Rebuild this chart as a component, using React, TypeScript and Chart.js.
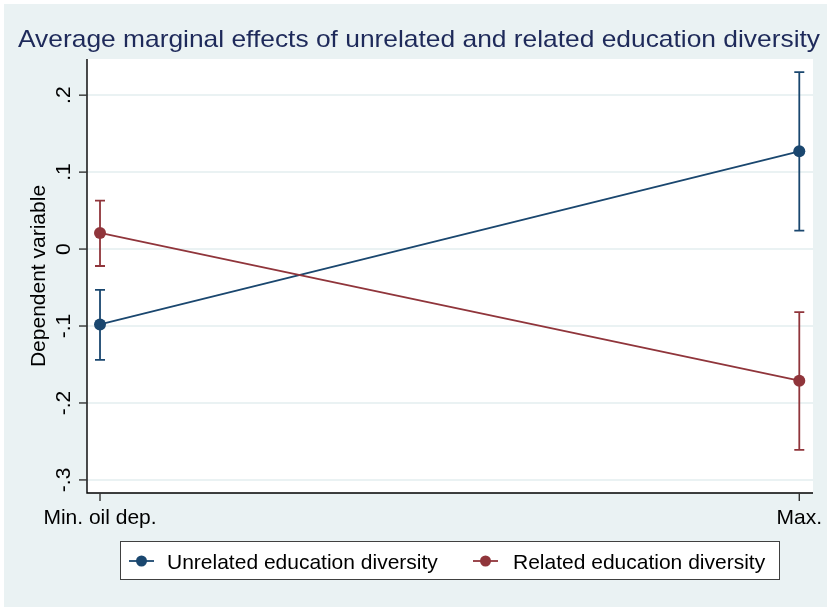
import React, { useEffect, useRef } from "react";
import { Chart, registerables } from "chart.js";

Chart.register(...registerables);

const categories = ["Min. oil dep.", "Max."];
const yTicks = [0.2, 0.1, 0, -0.1, -0.2, -0.3];
const yTickLabels = [".2", ".1", "0", "-.1", "-.2", "-.3"];
const seriesNames = ["Unrelated education diversity", "Related education diversity"];
const unrelatedMean = [-0.098, 0.127];
const unrelatedLower = [-0.144, 0.024];
const unrelatedUpper = [-0.053, 0.23];
const relatedMean = [0.021, -0.171];
const relatedLower = [-0.022, -0.261];
const relatedUpper = [0.063, -0.082];

const BLUE = "#1a476f";
const RED = "#90353b";
const BG = "#eaf2f3";
const FONT = "'Liberation Sans', Arial, sans-serif";
const TITLE = "Average marginal effects of unrelated and related education diversity";

const ciPlugin = {
  id: "stataDecor",
  beforeDraw(chart: any) {
    const { ctx, chartArea, width, height } = chart;
    ctx.save();
    ctx.fillStyle = "#ffffff";
    ctx.fillRect(0, 0, width, height);
    ctx.fillStyle = BG;
    ctx.fillRect(4, 4, width - 4, height - 4);
    ctx.fillStyle = "#ffffff";
    ctx.fillRect(chartArea.left, chartArea.top, chartArea.right - chartArea.left, chartArea.bottom - chartArea.top);
    const ys = chart.scales.y;
    const xs = chart.scales.x;
    // grid
    ctx.strokeStyle = BG;
    ctx.lineWidth = 2;
    yTicks.forEach((t) => {
      const py = Math.round(ys.getPixelForValue(t));
      ctx.beginPath();
      ctx.moveTo(chartArea.left, py);
      ctx.lineTo(chartArea.right, py);
      ctx.stroke();
    });
    // title (stretched horizontally like the reference)
    ctx.fillStyle = "#1e2a5a";
    ctx.font = `24px ${FONT}`;
    ctx.textAlign = "center";
    ctx.textBaseline = "alphabetic";
    const tw = ctx.measureText(TITLE).width;
    const sx = 802 / tw;
    ctx.save();
    ctx.translate(419, 47);
    ctx.scale(sx, 1);
    ctx.fillText(TITLE, 0, 0);
    ctx.restore();
    // axes lines
    ctx.strokeStyle = "#000000";
    ctx.lineWidth = 1.4;
    ctx.beginPath();
    ctx.moveTo(chartArea.left, chartArea.top);
    ctx.lineTo(chartArea.left, chartArea.bottom);
    ctx.lineTo(chartArea.right, chartArea.bottom);
    ctx.stroke();
    // y ticks
    ctx.strokeStyle = "#333333";
    ctx.fillStyle = "#000000";
    ctx.font = `21px ${FONT}`;
    yTicks.forEach((t, i) => {
      const py = ys.getPixelForValue(t);
      ctx.beginPath();
      ctx.moveTo(chartArea.left - 8, py);
      ctx.lineTo(chartArea.left, py);
      ctx.stroke();
      ctx.save();
      ctx.translate(70, py);
      ctx.rotate(-Math.PI / 2);
      ctx.textAlign = "center";
      ctx.textBaseline = "alphabetic";
      ctx.fillText(yTickLabels[i], 0, 0);
      ctx.restore();
    });
    // x ticks
    categories.forEach((c, i) => {
      const px = xs.getPixelForValue(i);
      ctx.beginPath();
      ctx.moveTo(px, chartArea.bottom);
      ctx.lineTo(px, chartArea.bottom + 8);
      ctx.stroke();
      ctx.textAlign = "center";
      ctx.textBaseline = "alphabetic";
      ctx.fillText(c, px, 524);
    });
    // y title
    ctx.save();
    ctx.translate(45, (chartArea.top + chartArea.bottom) / 2);
    ctx.rotate(-Math.PI / 2);
    ctx.textAlign = "center";
    ctx.fillText("Dependent variable", 0, 0);
    ctx.restore();
    // legend
    ctx.fillStyle = "#ffffff";
    ctx.fillRect(120, 541, 659, 38);
    ctx.strokeStyle = "#404040";
    ctx.lineWidth = 1;
    ctx.strokeRect(120.5, 541.5, 659, 38);
    const items = [
      { color: BLUE, x: 129, tx: 167, name: seriesNames[0] },
      { color: RED, x: 473, tx: 513, name: seriesNames[1] },
    ];
    items.forEach((it) => {
      ctx.strokeStyle = it.color;
      ctx.lineWidth = 1.8;
      ctx.beginPath();
      ctx.moveTo(it.x, 561);
      ctx.lineTo(it.x + 25, 561);
      ctx.stroke();
      ctx.fillStyle = it.color;
      ctx.beginPath();
      ctx.arc(it.x + 12.5, 561, 5.5, 0, Math.PI * 2);
      ctx.fill();
      ctx.fillStyle = "#000000";
      ctx.font = `21px ${FONT}`;
      ctx.textAlign = "left";
      ctx.textBaseline = "alphabetic";
      ctx.fillText(it.name, it.tx, 568.5);
    });
    ctx.restore();
  },
  afterDatasetsDraw(chart: any) {
    const { ctx } = chart;
    const ys = chart.scales.y;
    const xs = chart.scales.x;
    const sets = [
      { color: RED, lo: relatedLower, hi: relatedUpper },
      { color: BLUE, lo: unrelatedLower, hi: unrelatedUpper },
    ];
    ctx.save();
    sets.forEach((s) => {
      ctx.strokeStyle = s.color;
      ctx.lineWidth = 1.8;
      s.lo.forEach((lo, i) => {
        const px = xs.getPixelForValue(i);
        const pLo = ys.getPixelForValue(lo);
        const pHi = ys.getPixelForValue(s.hi[i]);
        ctx.beginPath();
        ctx.moveTo(px, pLo);
        ctx.lineTo(px, pHi);
        ctx.moveTo(px - 5, pLo);
        ctx.lineTo(px + 5, pLo);
        ctx.moveTo(px - 5, pHi);
        ctx.lineTo(px + 5, pHi);
        ctx.stroke();
      });
    });
    ctx.restore();
  },
};

export default function App() {
  const ref = useRef<HTMLCanvasElement>(null);
  useEffect(() => {
    if (!ref.current) return;
    const chart = new Chart(ref.current, {
      type: "line",
      data: {
        datasets: [
          {
            label: seriesNames[1],
            data: relatedMean.map((v, i) => ({ x: i, y: v })),
            borderColor: RED,
            backgroundColor: RED,
            borderWidth: 1.8,
            pointRadius: 6,
            pointBorderWidth: 0,
          },
          {
            label: seriesNames[0],
            data: unrelatedMean.map((v, i) => ({ x: i, y: v })),
            borderColor: BLUE,
            backgroundColor: BLUE,
            borderWidth: 1.8,
            pointRadius: 6,
            pointBorderWidth: 0,
          },
        ],
      },
      options: {
        animation: false,
        responsive: false,
        devicePixelRatio: 1,
        layout: { padding: { left: 87, right: 14, top: 59, bottom: 114 } },
        plugins: { legend: { display: false }, tooltip: { enabled: false } },
        scales: {
          x: { type: "linear", min: -0.0186, max: 1.0196, display: false },
          y: { type: "linear", min: -0.317, max: 0.247, display: false },
        },
      },
      plugins: [ciPlugin],
    });
    return () => chart.destroy();
  }, []);
  return (
    <div style={{ position: "fixed", left: 0, top: 0, width: 827, height: 607 }}>
      <canvas ref={ref} width={827} height={607} style={{ width: 827, height: 607, display: "block" }} />
    </div>
  );
}
